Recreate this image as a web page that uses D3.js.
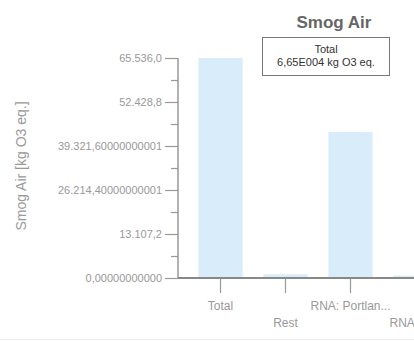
<!DOCTYPE html>
<html><head><meta charset="utf-8">
<script src="https://cdn.jsdelivr.net/npm/d3@7"></script>
<style>body{margin:0;background:#fff;} svg{display:block;font-family:"Liberation Sans",Arial,sans-serif;}</style>
</head><body>
<svg id="c" width="414" height="341"></svg>
<script>
const categories = ["Total", "Rest", "RNA: Portlan...", "RNA: M..."];
const values = [66500, 1100, 43500, 700];
const tickValues = [0, 13107.2, 26214.4, 39321.6, 52428.8, 65536];
const tickLabels = ["0,00000000000", "13.107,2", "26.214,40000000001", "39.321,60000000001", "52.428,8", "65.536,0"];
const minorTicks = [6553.6, 19660.8, 32768, 45875.2, 58982.4];
const title = "Smog Air";
const yLabel = "Smog Air [kg O3 eq.]";
const legendLines = ["Total", "6,65E004 kg O3 eq."];

const svg = d3.select("#c");
const x0 = 178, yTop = 58, yBase = 278;
const y = d3.scaleLinear().domain([0, 65536]).range([yBase, yTop]).clamp(true);
const x = d3.scaleBand().domain(categories).range([188, 448]).paddingInner(0.32).paddingOuter(0.16);

// bars
svg.selectAll("rect.bar").data(values).enter().append("rect")
  .attr("x", (d,i) => x(categories[i]))
  .attr("width", x.bandwidth())
  .attr("y", d => y(d))
  .attr("height", d => yBase - y(d))
  .attr("fill", "#d8edf9");

// y axis
const yAxis = d3.axisLeft(y).tickValues(tickValues).tickSize(13).tickPadding(3)
  .tickFormat((d,i) => tickLabels[i]);
const gy = svg.append("g").attr("transform", `translate(${x0},0)`).call(yAxis);
gy.select(".domain").attr("stroke", "#999").attr("stroke-width", 1.5).attr("d", `M0,${yTop}V${yBase}`);
gy.selectAll(".tick line").attr("stroke", "#999").attr("stroke-width", 1.2);
gy.selectAll(".tick text").attr("fill", "#999").attr("font-size", 11).attr("font-family", "Liberation Sans,Arial,sans-serif");
const gm = svg.append("g").attr("transform", `translate(${x0},0)`).call(d3.axisLeft(y).tickValues(minorTicks).tickSize(7).tickFormat(""));
gm.select(".domain").remove();
gm.selectAll(".tick line").attr("stroke", "#999").attr("stroke-width", 1.2);

// x axis
const xAxis = d3.axisBottom(x).tickSize(15).tickFormat("");
const gx = svg.append("g").attr("transform", `translate(0,${yBase})`).call(xAxis);
gx.select(".domain").attr("stroke", "#888").attr("stroke-width", 2).attr("d", `M${x0},0H414`);
gx.selectAll(".tick line").attr("stroke", "#999").attr("stroke-width", 1.2);
svg.append("g").selectAll("text").data(categories).enter().append("text")
  .attr("x", d => x(d) + x.bandwidth()/2)
  .attr("y", (d,i) => i % 2 === 0 ? 310 : 327)
  .attr("text-anchor", "middle")
  .attr("font-size", 12).attr("fill", "#999")
  .text(d => d);

// y label
svg.append("text").attr("transform", "translate(26,166) rotate(-90)")
  .attr("text-anchor", "middle").attr("font-size", 14).attr("fill", "#999").text(yLabel);

// title
svg.append("text").attr("x", 334).attr("y", 28).attr("text-anchor", "middle")
  .attr("font-size", 17).attr("font-weight", "bold").attr("fill", "#666").text(title);

// legend box
svg.append("rect").attr("x", 262.5).attr("y", 37.5).attr("width", 127).attr("height", 38)
  .attr("fill", "#fff").attr("stroke", "#777").attr("stroke-width", 1);
svg.selectAll("text.leg").data(legendLines).enter().append("text")
  .attr("x", 326).attr("y", (d,i) => 53 + i*13).attr("text-anchor", "middle")
  .attr("font-size", 11).attr("fill", "#333").text(d => d);

// faint bottom line
svg.append("line").attr("x1", 0).attr("x2", 414).attr("y1", 339.5).attr("y2", 339.5).attr("stroke", "#eee");
</script>
</body></html>
